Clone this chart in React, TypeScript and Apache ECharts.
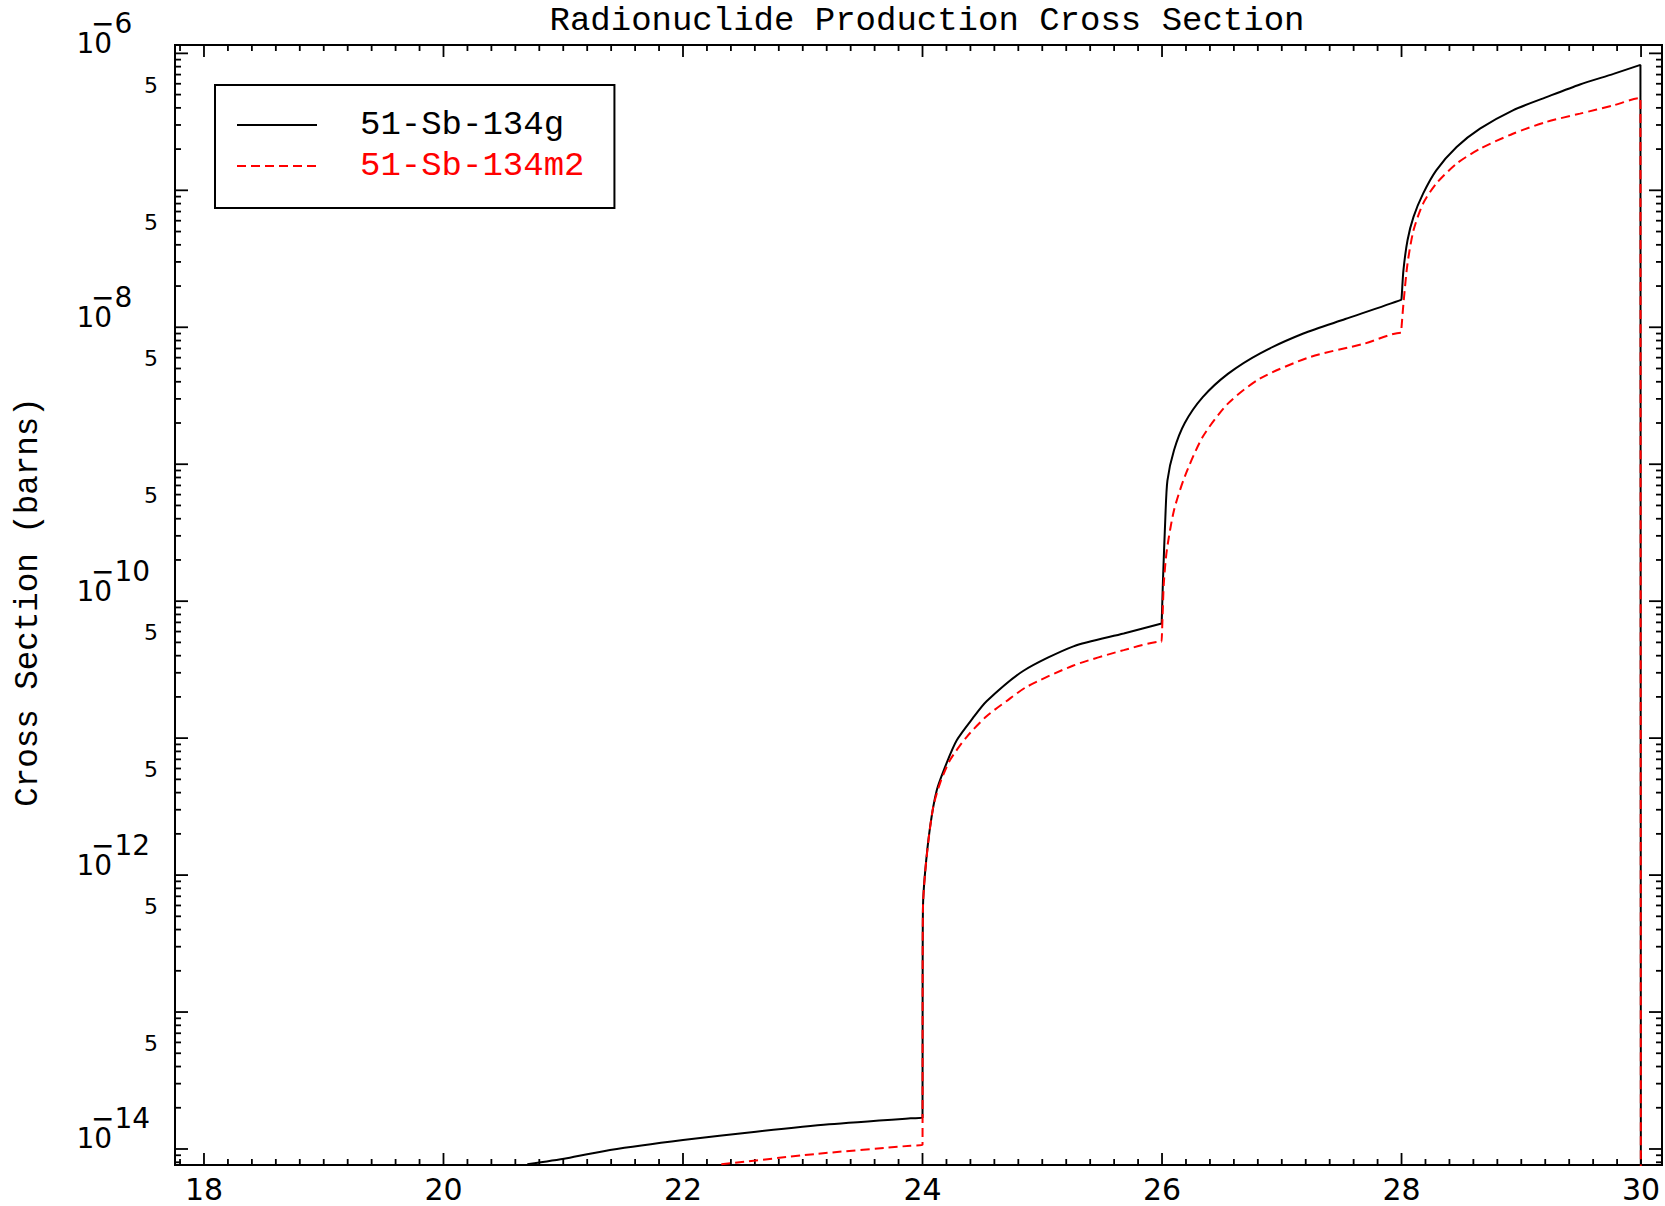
import React, { useEffect, useRef } from "react";
import * as echarts from "echarts";

const TITLE = "Radionuclide Production Cross Section";
const Y_NAME = "Cross Section (barns)";
const NAME_G = "51-Sb-134g";
const NAME_M2 = "51-Sb-134m2";

const X_MIN = 17.758;
const X_MAX = 30.175;
const Y_MIN = 7.64e-15;
const Y_MAX = 1.151e-6;

// 51-Sb-134g (solid black)
const G_X = [
  20.7, 21.03, 21.39, 22.0, 22.61, 23.22, 23.9, 24.0,
  24.001, 24.004, 24.021, 24.063, 24.119, 24.202, 24.286, 24.42, 24.535, 24.84, 25.26, 25.68, 25.997,
  26.0, 26.007, 26.028, 26.045, 26.1, 26.19, 26.34, 26.55, 26.82, 27.18, 27.53, 27.996,
  28.0, 28.016, 28.05, 28.1, 28.18, 28.29, 28.46, 28.655, 28.93, 29.21, 29.49, 29.77, 29.995,
  30.0, 30.0,
];
const G_Y = [
  7.73e-15, 8.55e-15, 9.84e-15, 1.164e-14, 1.337e-14, 1.514e-14, 1.675e-14, 1.69e-14,
  1.6e-13, 5.9e-13, 1.035e-12, 2.24e-12, 4.17e-12, 6.61e-12, 9.66e-12, 1.4e-11, 1.86e-11, 3.09e-11, 4.68e-11, 5.81e-11, 6.87e-11,
  6.9e-11, 1.35e-10, 4.12e-10, 7.6e-10, 1.265e-9, 2.0e-9, 3.09e-9, 4.57e-9, 6.46e-9, 9.0e-9, 1.148e-8, 1.585e-8,
  1.62e-8, 2.61e-8, 4.32e-8, 6.4e-8, 9.46e-8, 1.4e-7, 2.07e-7, 2.82e-7, 3.84e-7, 4.79e-7, 5.93e-7, 7.08e-7, 8.24e-7,
  8.25e-7, 1e-20,
];

// 51-Sb-134m2 (dashed red)
const M2_X = [
  22.32, 23.11, 23.9, 24.0,
  24.001, 24.004, 24.02, 24.05, 24.09, 24.146, 24.23, 24.37, 24.535, 24.7, 24.87, 25.26, 25.68, 25.997,
  26.0, 26.005, 26.015, 26.04, 26.1, 26.19, 26.34, 26.55, 26.82, 27.24, 27.69, 27.996,
  28.0, 28.016, 28.05, 28.1, 28.18, 28.29, 28.46, 28.655, 28.93, 29.21, 29.49, 29.77, 29.995,
  30.0, 30.0,
];
const M2_Y = [
  7.73e-15, 9.2e-15, 1.057e-14, 1.074e-14,
  1.6e-13, 5.9e-13, 1.0e-12, 1.8e-12, 3.16e-12, 4.68e-12, 6.92e-12, 1.023e-11, 1.445e-11, 1.86e-11, 2.37e-11, 3.39e-11, 4.39e-11, 5.06e-11,
  5.06e-11, 7.94e-11, 1.35e-10, 2.35e-10, 4.61e-10, 8.13e-10, 1.585e-9, 2.77e-9, 4.23e-9, 6.08e-9, 7.59e-9, 9.12e-9,
  9.12e-9, 1.49e-8, 2.92e-8, 5.1e-8, 8.0e-8, 1.12e-7, 1.567e-7, 2.01e-7, 2.59e-7, 3.16e-7, 3.63e-7, 4.17e-7, 4.71e-7,
  4.71e-7, 1e-20,
];

// axis ticks and labels
const X_LABELS = [18, 20, 22, 24, 26, 28, 30];
const X_MINOR_STEP = 0.2;
const Y_DECADES = [-15, -14, -13, -12, -11, -10, -9, -8, -7, -6];
const Y_LABEL_EXPONENTS = [-14, -12, -10, -8, -6];
const Y_FIVE_LABELS = [5e-14, 5e-13, 5e-12, 5e-11, 5e-10, 5e-9, 5e-8, 5e-7];
const Y_MINOR_MULTS = [2, 3, 4, 5, 6, 7, 8, 9];

const TICK_FONT = "DejaVu Sans";
const TEXT_FONT = "Liberation Mono";
const MAJOR_LEN = 12;
const MINOR_LEN = 6;

function buildXTicks() {
  const out: number[][] = [];
  const start = Math.ceil(X_MIN / X_MINOR_STEP);
  const end = Math.floor(X_MAX / X_MINOR_STEP);
  for (let i = start; i <= end; i++) {
    const v = Math.round(i * X_MINOR_STEP * 1000) / 1000;
    const major = X_LABELS.some((m) => Math.abs(m - v) < 1e-6) ? 1 : 0;
    out.push([v, Y_MIN, major]);
  }
  return out;
}

function buildYTicks() {
  const out: number[][] = [];
  Y_DECADES.forEach((e) => {
    const base = Math.pow(10, e);
    if (base >= Y_MIN && base <= Y_MAX) out.push([X_MIN, base, 1]);
    Y_MINOR_MULTS.forEach((m) => {
      const v = m * base;
      if (v >= Y_MIN && v <= Y_MAX) out.push([X_MIN, v, 0]);
    });
  });
  return out;
}

const tickStyle = { stroke: "#000", lineWidth: 1.8 };

export default function App() {
  const ref = useRef<HTMLDivElement>(null);
  useEffect(() => {
    if (!ref.current) return;
    const chart = echarts.init(ref.current, null, { renderer: "svg" });
    const option: any = {
      animation: false,
      backgroundColor: "#fff",
      title: {
        text: TITLE,
        left: 927,
        top: 4,
        textAlign: "center",
        padding: 0,
        textStyle: { fontFamily: TEXT_FONT, fontSize: 34, fontWeight: "normal", color: "#000" },
      },
      legend: {
        left: 215,
        top: 85,
        orient: "vertical",
        selectedMode: false,
        padding: [23, 30, 25, 21],
        itemWidth: 80,
        itemHeight: 14,
        itemGap: 7,
        borderColor: "#000",
        borderWidth: 2,
        borderRadius: 0,
        itemStyle: { opacity: 0, borderWidth: 0 },
        textStyle: { fontFamily: TEXT_FONT, fontSize: 34, padding: [0, 0, 4, 38] },
        data: [
          { name: NAME_G, textStyle: { color: "#000" } },
          { name: NAME_M2, textStyle: { color: "#ff0000" } },
        ],
      },
      grid: {
        left: 175,
        right: 3,
        top: 45,
        bottom: 41,
        show: true,
        borderColor: "#000",
        borderWidth: 2,
        backgroundColor: "transparent",
      },
      xAxis: { type: "value", min: X_MIN, max: X_MAX, show: false },
      yAxis: { type: "log", logBase: 10, min: Y_MIN, max: Y_MAX, show: false },
      graphic: [
        {
          type: "text",
          x: 28,
          y: 602,
          rotation: Math.PI / 2,
          style: {
            text: Y_NAME,
            fontFamily: TEXT_FONT,
            fontSize: 32.5,
            fill: "#000",
            align: "center",
            verticalAlign: "middle",
          },
        },
      ],
      series: [
        {
          name: NAME_G,
          type: "line",
          data: G_X.map((x, i) => [x, G_Y[i]]),
          showSymbol: false,
          symbol: "none",
          smooth: 0.25,
          clip: true,
          lineStyle: { color: "#000", width: 2 },
          itemStyle: { color: "#000" },
          z: 3,
        },
        {
          name: NAME_M2,
          type: "line",
          data: M2_X.map((x, i) => [x, M2_Y[i]]),
          showSymbol: false,
          symbol: "none",
          smooth: 0.25,
          clip: true,
          lineStyle: { color: "#ff0000", width: 2, type: [9, 5] },
          itemStyle: { color: "#ff0000" },
          z: 4,
        },
        {
          type: "custom",
          name: "xticks",
          coordinateSystem: "cartesian2d",
          clip: false,
          silent: true,
          data: buildXTicks(),
          renderItem: (_p: any, api: any) => {
            const v = api.value(0);
            const len = api.value(2) ? MAJOR_LEN : MINOR_LEN;
            const b = api.coord([v, Y_MIN]);
            const t = api.coord([v, Y_MAX]);
            return {
              type: "group",
              children: [
                { type: "line", shape: { x1: b[0], y1: b[1], x2: b[0], y2: b[1] - len }, style: tickStyle },
                { type: "line", shape: { x1: t[0], y1: t[1], x2: t[0], y2: t[1] + len }, style: tickStyle },
              ],
            };
          },
        },
        {
          type: "custom",
          name: "yticks",
          coordinateSystem: "cartesian2d",
          clip: false,
          silent: true,
          data: buildYTicks(),
          renderItem: (_p: any, api: any) => {
            const v = api.value(1);
            const len = api.value(2) ? MAJOR_LEN + 1 : MINOR_LEN;
            const l = api.coord([X_MIN, v]);
            const r = api.coord([X_MAX, v]);
            return {
              type: "group",
              children: [
                { type: "line", shape: { x1: l[0], y1: l[1], x2: l[0] + len, y2: l[1] }, style: tickStyle },
                { type: "line", shape: { x1: r[0], y1: r[1], x2: r[0] - len, y2: r[1] }, style: tickStyle },
              ],
            };
          },
        },
        {
          type: "custom",
          name: "xlabels",
          coordinateSystem: "cartesian2d",
          clip: false,
          silent: true,
          data: X_LABELS.map((v) => [v, Y_MIN]),
          renderItem: (_p: any, api: any) => {
            const v = api.value(0);
            const b = api.coord([v, Y_MIN]);
            return {
              type: "text",
              x: b[0],
              y: b[1] + 24.5,
              style: {
                text: String(v),
                fontFamily: TICK_FONT,
                fontSize: 30,
                fill: "#000",
                align: "center",
                verticalAlign: "middle",
              },
            };
          },
        },
        {
          type: "custom",
          name: "ylabels",
          coordinateSystem: "cartesian2d",
          clip: false,
          silent: true,
          data: Y_LABEL_EXPONENTS.map((e) => [X_MIN, Math.pow(10, e), e]),
          renderItem: (_p: any, api: any) => {
            const v = api.value(1);
            const e = api.value(2);
            const p = api.coord([X_MIN, v]);
            const x0 = p[0] - 98.5;
            const st = { fontFamily: TICK_FONT, fontSize: 28, fill: "#000", align: "left", verticalAlign: "middle" };
            return {
              type: "group",
              children: [
                { type: "text", x: x0, y: p[1] - 10, style: { ...st, text: "10" } },
                { type: "text", x: x0 + 14.5, y: p[1] - 30, style: { ...st, text: "\u2212" + Math.abs(e) } },
              ],
            };
          },
        },
        {
          type: "custom",
          name: "yfives",
          coordinateSystem: "cartesian2d",
          clip: false,
          silent: true,
          data: Y_FIVE_LABELS.map((v) => [X_MIN, v]),
          renderItem: (_p: any, api: any) => {
            const v = api.value(1);
            const p = api.coord([X_MIN, v]);
            return {
              type: "text",
              x: p[0] - 17,
              y: p[1] - 9.5,
              style: {
                text: "5",
                fontFamily: TICK_FONT,
                fontSize: 22,
                fill: "#000",
                align: "right",
                verticalAlign: "middle",
              },
            };
          },
        },
      ],
    };
    chart.setOption(option);
    return () => chart.dispose();
  }, []);
  return (
    <div
      ref={ref}
      style={{ position: "absolute", left: 0, top: 0, width: 1665, height: 1206, background: "#fff" }}
    />
  );
}
